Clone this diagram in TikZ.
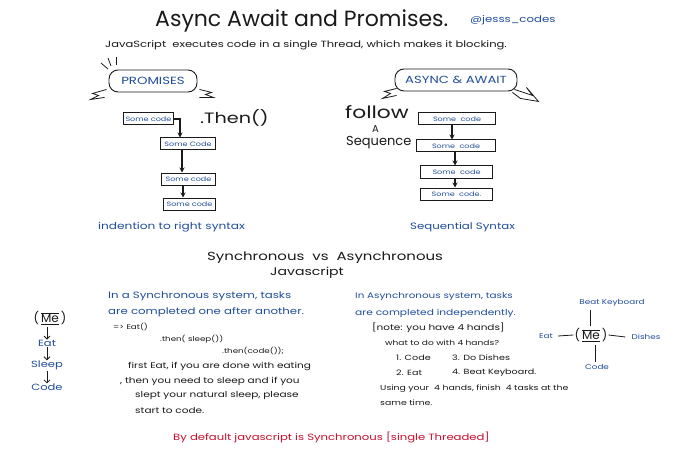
\documentclass[tikz,border=0pt]{standalone}
\usepackage{fontspec}
\setmainfont{Poppins}
\newfontfamily\hand[FakeStretch=1.28]{Poppins}
\usetikzlibrary{arrows.meta,calc}
\definecolor{inkblue}{HTML}{1F4E9A}
\definecolor{inkred}{HTML}{C8102E}
\definecolor{ink}{HTML}{1A1A1A}
\newcommand{\fs}[1]{\fontsize{#1}{#1}\selectfont}
\begin{document}
\begin{tikzpicture}[x=1pt,y=-1pt,
  txt/.style={anchor=west,inner sep=0pt,text=ink},
  btxt/.style={txt,text=inkblue},
  codebox/.style={draw=ink,line width=1pt,inner sep=2pt,text=inkblue,font=\hand\fs{6.3},minimum height=12pt,anchor=west},
  arr/.style={-{Stealth[length=5pt,width=5pt]},line width=1.1pt,draw=ink},
  thin/.style={line width=0.8pt,draw=ink},
  banner/.style={draw=ink,line width=0.9pt,rounded corners=9pt,minimum height=22pt,text=inkblue,font=\hand\fs{10.4},inner xsep=6pt}
]
\useasboundingbox[fill=white] (0,0) rectangle (679,457);

% title
\node[txt,font=\fs{22}] (title) at (155,21) {Async Await and Promises.};
\node[btxt,font=\hand\fs{9.2}] (handle) at (470,20) {@jesss\_codes};
\node[txt,font=\hand\fs{9}] (intro) at (105,45) {JavaScript\ \ executes code in a single Thread, which makes it blocking.};

% PROMISES banner
\node[banner,minimum width=88pt] (prom) at (153,81) {PROMISES};
\draw[thin] (prom.south west) ++(-2,-3) -- ++(-14,4) -- ++(6,2) -- ++(-8,4) -- ++(14,-2);
\draw[thin] (prom.south east) ++(2,-3) -- ++(12,3) -- ++(-6,2) -- ++(8,3) -- ++(-14,0);
\draw[thin] (101,63) -- (108,69);
\draw[thin] (108,58) -- (111,66);
\draw[thin] (116,57) -- (116,65);

\node[txt,font=\hand\fs{15}] (then) at (200,118) {.Then()};

\node[codebox,minimum width=47pt] (p1) at (123,119) {Some code};
\node[codebox,minimum width=55pt] (p2) at (160,144) {Some Code};
\node[codebox,minimum width=54pt] (p3) at (161,179) {Some code};
\node[codebox,minimum width=52pt] (p4) at (163,204) {Some code};
\draw[arr] (p1.east) -| ($(p2.north west)+(20,0)$);
\draw[arr] ($(p2.south west)+(22,0)$) -- ($(p3.north west)+(21,0)$);
\draw[arr] ($(p3.south west)+(22,0)$) -- ($(p4.north west)+(20,0)$);

\node[btxt,font=\hand\fs{9.5}] (indent) at (98,227) {indention to right syntax};

% ASYNC & AWAIT banner
\node[banner,minimum width=122pt,font=\hand\fs{10.3}] (asy) at (456,80) {ASYNC \& AWAIT};
\draw[thin] (asy.south west) ++(2,-3) -- ++(-12,3) -- ++(6,2) -- ++(-8,5) -- ++(14,-3);
\draw[thin] (asy.south east) ++(-3,-2) -- ++(18,6) -- ++(-6,-8) -- ++(12,14) -- ++(-18,-3) -- ++(-8,-6);

\node[txt,font=\hand\fs{17}] (follow) at (345,112) {follow};
\node[txt,font=\fs{10}] (a) at (372,129) {A};
\node[txt,font=\fs{13}] (seq) at (346,143) {Sequence};

\node[codebox,minimum width=77pt] (s1) at (418,119) {Some\ \ code};
\node[codebox,minimum width=79pt] (s2) at (416,146) {Some\ \ code};
\node[codebox,minimum width=72pt] (s3) at (420,172) {Some\ \ code};
\node[codebox,minimum width=72pt] (s4) at (420,194) {Some\ \ code.};
\draw[arr] ($(s1.south west)+(34,0)$) -- ($(s2.north west)+(36,0)$);
\draw[arr] ($(s2.south west)+(39,0)$) -- ($(s3.north west)+(35,0)$);
\draw[arr] ($(s3.south west)+(35,0)$) -- ($(s4.north west)+(35,0)$);

\node[btxt,font=\hand\fs{9.2}] (seqsyn) at (410,227) {Sequential Syntax};

% middle heading
\node[txt,font=\hand\fs{11.7}] (svsa) at (207,258) {Synchronous\ \ vs\ \ Asynchronous};
\node[txt,font=\hand\fs{11}] (js) at (270,273) {Javascript};

% left diagram
\node[inner sep=0pt,font=\fs{12},text=ink] (me) at (50,318) {(\,$\overline{\underline{\mbox{Me}}}$\,)};
\node[inner sep=0pt,font=\hand\fs{9},text=inkblue] (eat) at (47,343) {Eat};
\node[inner sep=0pt,font=\hand\fs{9},text=inkblue] (sleep) at (47,365) {Sleep};
\node[inner sep=0pt,font=\hand\fs{9},text=inkblue] (code) at (47,387) {Code};
\draw[-{Straight Barb[length=3pt]},thin] (me.south -| eat.north) ++(0,2) -- (eat.north);
\draw[-{Straight Barb[length=3pt]},thin] (eat.south) ++(0,1) -- (sleep.north);
\draw[-{Straight Barb[length=3pt]},thin] (sleep.south) ++(0,1) -- (code.north);

% synchronous text
\node[btxt,font=\hand\fs{9.2}] (sy1) at (108,296) {In a Synchronous system, tasks};
\node[btxt,font=\hand\fs{9.2}] (sy2) at (108,312) {are completed one after another.};
\node[txt,font=\hand\fs{6.8}] (sy3) at (113,327) {=> Eat()};
\node[txt,font=\hand\fs{6.8}] (sy4) at (160,339) {.then( sleep())};
\node[txt,font=\hand\fs{6.8}] (sy5) at (222,351) {.then(code());};
\node[txt,font=\hand\fs{8.2}] (sy6) at (128,366) {first Eat, if you are done with eating};
\node[txt,font=\hand\fs{8.2}] (sy7) at (120,381) {, then you need to sleep and if you};
\node[txt,font=\hand\fs{8.2}] (sy8) at (135,396) {slept your natural sleep, please};
\node[txt,font=\hand\fs{8.2}] (sy9) at (135,410) {start to code.};

% asynchronous text
\node[btxt,font=\hand\fs{8.1}] (as1) at (355,297) {In Asynchronous system, tasks};
\node[btxt,font=\hand\fs{8.3}] (as2) at (355,313) {are completed independently.};
\node[txt,font=\hand\fs{8.2}] (as3) at (372,328) {[note: you have 4 hands]};
\node[txt,font=\hand\fs{7.1}] (as4) at (385,343) {what to do with 4 hands?};
\node[txt,font=\hand\fs{7.5}] (as5) at (396,358) {1. Code};
\node[txt,font=\hand\fs{7.5}] (as6) at (452,358) {3. Do Dishes};
\node[txt,font=\hand\fs{7.5}] (as7) at (396,373) {2. Eat};
\node[txt,font=\hand\fs{7.5}] (as8) at (452,373) {4. Beat Keyboard.};
\node[txt,font=\hand\fs{7.3}] (as9) at (380,389) {Using your\ \ 4 hands, finish\ \ 4 tasks at the};
\node[txt,font=\hand\fs{7.3}] (as10) at (380,403) {same time.};

% right diagram
\node[inner sep=1pt,font=\fs{12},text=ink] (me2) at (591,335) {(\,$\overline{\underline{\mbox{Me}}}$\,)};
\node[inner sep=0pt,font=\hand\fs{6.9},text=inkblue] (bk) at (612,303) {Beat Keyboard};
\node[inner sep=0pt,font=\hand\fs{6.9},text=inkblue] (eat2) at (546,336) {Eat};
\node[inner sep=0pt,font=\hand\fs{6.9},text=inkblue] (dish) at (646,337) {Dishes};
\node[inner sep=0pt,font=\hand\fs{6.9},text=inkblue] (code2) at (597,367) {Code};
\draw[thin] (590,310) -- (590,326);
\draw[thin] (eat2.east) ++(5,0) -- (me2.west);
\draw[thin] (me2.east) -- ($(dish.west)+(-6,0)$);
\draw[thin] (595,345) -- ($(code2.north)+(-2,-2)$);

% bottom
\node[txt,text=inkred,font=\hand\fs{9.1}] (bottom) at (173,437) {By default javascript is Synchronous [single Threaded]};
\end{tikzpicture}
\end{document}
